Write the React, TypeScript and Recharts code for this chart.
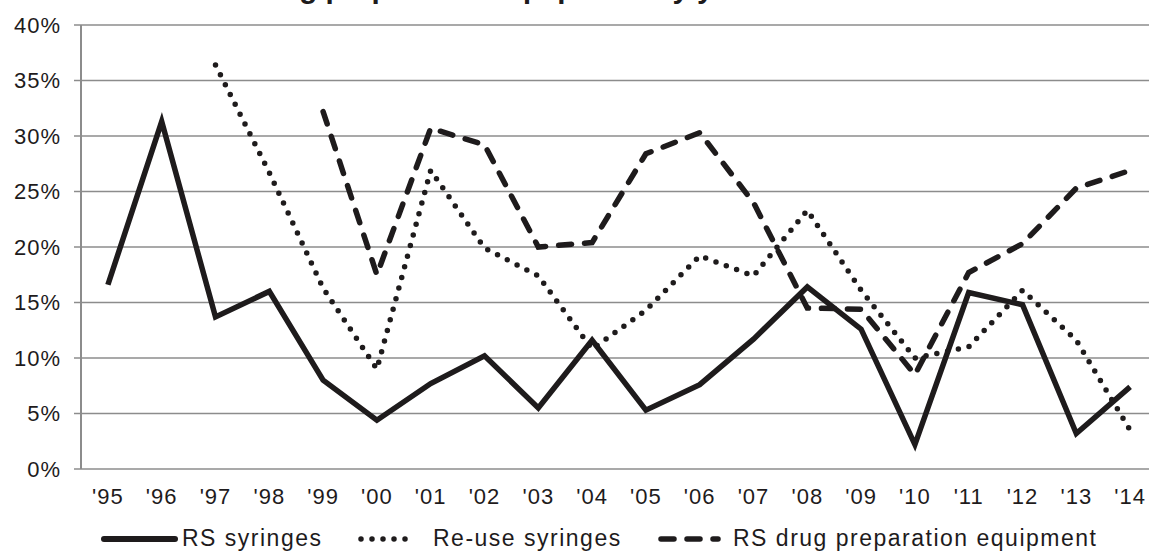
import React from 'react';
import { LineChart, Line, XAxis, YAxis, CartesianGrid } from 'recharts';

// values in percent
const years = ["'95", "'96", "'97", "'98", "'99", "'00", "'01", "'02", "'03", "'04", "'05", "'06", "'07", "'08", "'09", "'10", "'11", "'12", "'13", "'14"];
const rsSyringes = [16.6, 31.3, 13.7, 16.0, 8.0, 4.4, 7.7, 10.2, 5.5, 11.6, 5.3, 7.6, 11.7, 16.4, 12.6, 2.2, 15.9, 14.8, 3.2, 7.4];
const reuseSyringes = [null, null, 36.4, 26.7, 16.3, 9.0, 26.9, 19.9, 17.4, 10.8, 14.3, 19.2, 17.4, 23.3, 16.1, 10.0, 11.0, 16.1, 11.6, 3.5];
const rsPrepEquipment = [null, null, null, null, 32.2, 17.5, 30.7, 29.2, 20.0, 20.4, 28.4, 30.3, 24.0, 14.5, 14.4, 8.5, 17.7, 20.3, 25.3, 26.9];
const yTicks = [0, 5, 10, 15, 20, 25, 30, 35, 40];

const data = years.map((year, i) => ({
  year,
  pos: i + 0.5,
  rs: rsSyringes[i],
  reuse: reuseSyringes[i],
  prep: rsPrepEquipment[i],
}));
const labelTicks = years.map((_, i) => i + 0.5);
const boundaryTicks = years.map((_, i) => i).concat(years.length);

const INK = '#1e1b1c';
const GRID = '#8c8c8c';
const FONT = '"Liberation Sans", Arial, sans-serif';

const series = [
  { key: 'rs', name: 'RS syringes', dash: undefined as string | undefined },
  { key: 'reuse', name: 'Re-use syringes', dash: '0 11' },
  { key: 'prep', name: 'RS drug preparation equipment', dash: '13 13' },
];

// legend placement (icon start/end, text start)
const legendSlots = [
  { x1: 104, x2: 175, tx: 182 },
  { x1: 361, x2: 416, tx: 433 },
  { x1: 661, x2: 718, tx: 733 },
];

const tickStyle = { fontSize: 22, fill: INK, fontFamily: FONT, letterSpacing: 1 };

export default function App() {
  return (
    <div style={{ position: 'fixed', left: 0, top: 0, width: 1149, height: 552, overflow: 'hidden', background: '#fff' }}>
      <LineChart width={1160} height={552} data={data} margin={{ top: 25, right: 3, left: 0, bottom: 0 }}>
        <CartesianGrid vertical={false} stroke={GRID} strokeWidth={1.5} />
        <XAxis
          xAxisId="bounds"
          type="number"
          dataKey="pos"
          domain={[0, years.length]}
          ticks={boundaryTicks}
          interval={0}
          height={0}
          tick={false}
          tickSize={6}
          tickLine={{ stroke: GRID, strokeWidth: 1.5 }}
          axisLine={{ stroke: GRID, strokeWidth: 2 }}
        />
        <XAxis
          xAxisId="years"
          type="number"
          dataKey="pos"
          domain={[0, years.length]}
          ticks={labelTicks}
          interval={0}
          height={83}
          tickFormatter={(v: number) => years[Math.floor(v)]}
          tick={tickStyle}
          tickLine={false}
          axisLine={false}
          tickSize={6}
          tickMargin={13}
        />
        <YAxis
          width={81}
          domain={[0, 40]}
          ticks={yTicks}
          interval={0}
          tickFormatter={(v: number) => `${v}%`}
          tick={tickStyle}
          tickSize={7}
          tickMargin={13}
          tickLine={{ stroke: GRID, strokeWidth: 1.5 }}
          axisLine={{ stroke: GRID, strokeWidth: 2 }}
        />
        {series.map((s) => (
          <Line
            key={s.key}
            xAxisId="years"
            type="linear"
            dataKey={s.key}
            name={s.name}
            stroke={INK}
            strokeWidth={5.5}
            strokeDasharray={s.dash}
            strokeLinecap={s.dash ? 'round' : 'butt'}
            dot={false}
            activeDot={false}
            isAnimationActive={false}
          />
        ))}
      </LineChart>

      <svg width={1149} height={552} style={{ position: 'absolute', left: 0, top: 0, overflow: 'visible', pointerEvents: 'none' }}>
        {/* title sits mostly above the crop; only its descenders show */}
        <text x={758} y={-2} textAnchor="end" fontFamily={FONT} fontWeight="bold" fontSize={29.6} fill={INK}>
          Needle and drug preparation equipment by year
        </text>
        {series.map((s, i) => {
          const slot = legendSlots[i];
          return (
            <g key={s.key}>
              <line
                x1={slot.x1}
                x2={slot.x2}
                y1={539}
                y2={539}
                stroke={INK}
                strokeWidth={s.dash ? 5.5 : 6}
                strokeDasharray={s.dash}
                strokeLinecap="round"
              />
              <text x={slot.tx} y={546} fontFamily={FONT} fontSize={23} letterSpacing={1.5} fill={INK}>
                {s.name}
              </text>
            </g>
          );
        })}
      </svg>
    </div>
  );
}
